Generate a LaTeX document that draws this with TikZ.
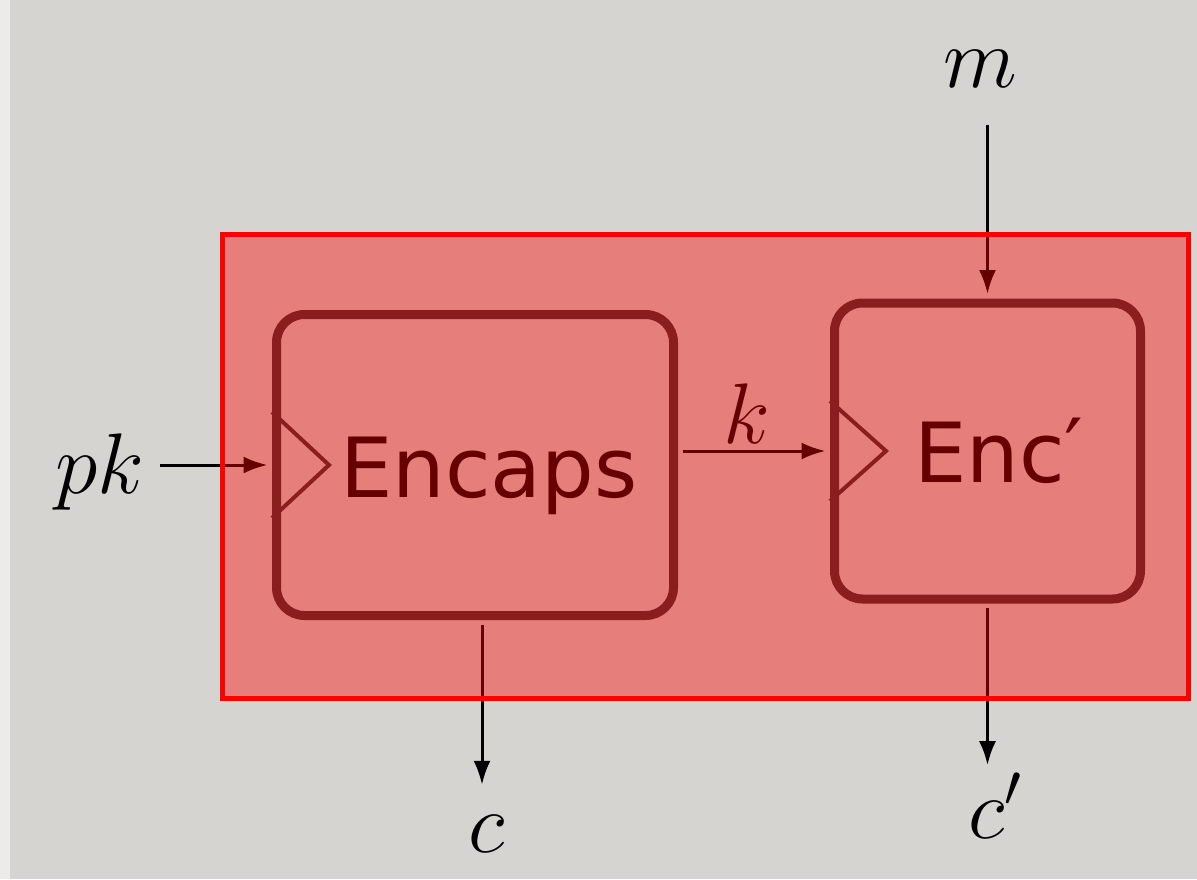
\RequirePackage{fix-cm}
\documentclass[tikz,border=0pt]{standalone}
\usepackage{fontspec}
\newfontfamily\boxfont{DejaVu Sans}
\newfontfamily\dejavu{DejaVu Sans}
\usetikzlibrary{arrows.meta,calc}
\definecolor{paper}{RGB}{214,212,208}
\definecolor{paperlight}{RGB}{236,235,233}
\definecolor{boxline}{RGB}{60,50,50}
\definecolor{hilite}{RGB}{255,0,0}
\begin{document}
\begin{tikzpicture}[x=1pt,y=-1pt,
  blk/.style={draw=boxline, line width=9pt, rounded corners=28pt, inner sep=0pt},
  clk/.style={draw=boxline, line width=4pt, line join=miter},
  arr/.style={line width=3pt, -{Latex[length=24pt,width=17pt]}},
  mlab/.style={font=\fontsize{86}{90}\selectfont, inner sep=0pt},
  blab/.style={font=\boxfont\fontsize{83}{96}\selectfont, inner sep=0pt, text=black},
]
\useasboundingbox (0,0) rectangle (1197,879);
\fill[paper] (0,0) rectangle (1197,879);
\fill[paperlight] (0,0) rectangle (10,879);

% blocks
\node[blk, minimum width=397pt, minimum height=301pt] (encaps) at (475,465) {};
\node[blk, minimum width=306pt, minimum height=296pt] (enc) at (987.5,451) {};

% clock triangles
\draw[clk] ($(encaps.west)+(0,-53)$) -- ($(encaps.west)+(57,0)$) -- ($(encaps.west)+(0,53)$);
\draw[clk] ($(enc.west)+(0,-50)$) -- ($(enc.west)+(56,0)$) -- ($(enc.west)+(0,50)$);

% block texts
\node[blab, anchor=base west] (encapst) at (340,497) {Encaps};
\node[blab, anchor=base west] (enct) at (914,482) {Enc{\dejavu\raisebox{4pt}{′}}};

% outer labels
\node[mlab, anchor=base west] (pk) at (55,493) {$pk$};
\node[mlab, anchor=base] (k) at (747,443) {$k$};
\node[mlab, anchor=base] (m) at (980,87) {$m$};
\node[mlab, anchor=base] (c) at (487,852) {$c$};
\node[mlab, anchor=base west] (cp) at (968,838) {$c'$};

% connectors
\draw[arr, shorten >=4.5pt] ([xshift=16pt]pk.east |- encaps.west) -- (encaps.west);
\draw[arr, shorten <=4.5pt, shorten >=4.5pt] (encaps.east |- enc.west) -- (enc.west);
\draw[arr, shorten >=4.5pt] ([yshift=-38pt]m.south -| enc.north) -- (enc.north);
\draw[arr, shorten <=4.5pt, shorten >=30pt] ([xshift=-5pt]encaps.south -| c.north) -- ([xshift=-5pt]c.north);
\draw[arr, shorten <=4.5pt, shorten >=8pt] (enc.south) -- (enc.south |- cp.north);

% highlight
\fill[hilite, fill opacity=0.4] (222,234) rectangle (1188,698);
\draw[hilite, line width=5pt] (222,234) rectangle (1188,698);
\end{tikzpicture}
\end{document}
